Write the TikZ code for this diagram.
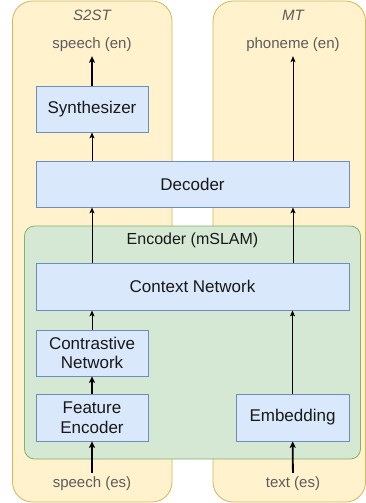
\documentclass[tikz,border=0pt]{standalone}
\usepackage{fontspec}
\setmainfont{Liberation Sans}
\usepackage{xcolor}
\usetikzlibrary{arrows.meta,positioning}
\definecolor{panelfill}{HTML}{FFF2CC}
\definecolor{panelline}{HTML}{D6B656}
\definecolor{encfill}{HTML}{D5E8D4}
\definecolor{encline}{HTML}{82B366}
\definecolor{blockfill}{HTML}{DAE8FC}
\definecolor{blockline}{HTML}{6C8EBF}
\definecolor{labelgray}{HTML}{5C5C5C}

\begin{document}
\begin{tikzpicture}[x=1pt,y=-1pt,
	panel/.style={draw=panelline,fill=panelfill,line width=0.8pt,rounded corners=20pt},
	block/.style={draw=blockline,fill=blockfill,line width=0.8pt,inner sep=0pt,align=center,
		text=black!90,font=\fontsize{17}{19.5}\selectfont},
	io/.style={text=labelgray,font=\fontsize{15}{18}\selectfont,inner sep=4pt},
	flow/.style={-{Stealth[length=6pt,width=5pt,inset=1.5pt]},line width=0.9pt},
	boldflow/.style={-{Stealth[length=6.5pt,width=6pt,inset=1.5pt]},line width=1.8pt}]
	\useasboundingbox (0,0) rectangle (366,503);
	\clip (0,0) rectangle (366,503);
	% task panels
	\draw[panel] (12.5,1) rectangle (172,502);
	\draw[panel] (213,1) rectangle (365.5,502);
	\node[io,font=\itshape\fontsize{15}{18}\selectfont] (s2st) at (92,15) {S2ST};
	\node[io,font=\itshape\fontsize{15}{18}\selectfont] (mt) at (293,15) {MT};
	% encoder
	\draw[draw=encline,fill=encfill,line width=0.8pt,rounded corners=10pt] (24.5,226) rectangle (360.5,459);
	\node[text=black!90,font=\fontsize{16}{19}\selectfont] (enclabel) at (192.5,240) {Encoder (mSLAM)};
	% blocks
	\node[block,minimum width=112pt,minimum height=46pt] (synth) at (92,109) {Synthesizer};
	\node[block,minimum width=313pt,minimum height=46pt] (dec) at (192.5,184) {Decoder};
	\node[block,minimum width=313pt,minimum height=47pt] (ctx) at (192.5,286.5) {Context Network};
	\node[block,minimum width=112pt,minimum height=46pt] (contr) at (92,353) {Contrastive\\Network};
	\node[block,minimum width=112pt,minimum height=47pt] (feat) at (92,417.5) {Feature\\Encoder};
	\node[block,minimum width=113pt,minimum height=47pt] (emb) at (292.5,417.5) {Embedding};
	% inputs and outputs
	\node[io] (spen) at (92,45) {speech (en)};
	\node[io] (phen) at (293,45) {phoneme (en)};
	\node[io] (spes) at (92,484) {speech (es)};
	\node[io] (txes) at (293,484) {text (es)};
	% connectors
	\draw[boldflow] (spes) -- (feat);
	\draw[boldflow] (feat) -- (contr);
	\draw[flow] (contr) -- (contr |- ctx.south);
	\draw[flow] (ctx.north -| contr) -- (dec.south -| contr);
	\draw[flow] (dec.north -| synth) -- (synth);
	\draw[boldflow] (synth) -- (spen);
	\draw[boldflow] (txes) -- (emb);
	\draw[flow] (emb) -- (emb |- ctx.south);
	\draw[flow] (ctx.north -| txes) -- (dec.south -| txes);
	\draw[flow] (dec.north -| txes) -- (phen);
\end{tikzpicture}
\end{document}
